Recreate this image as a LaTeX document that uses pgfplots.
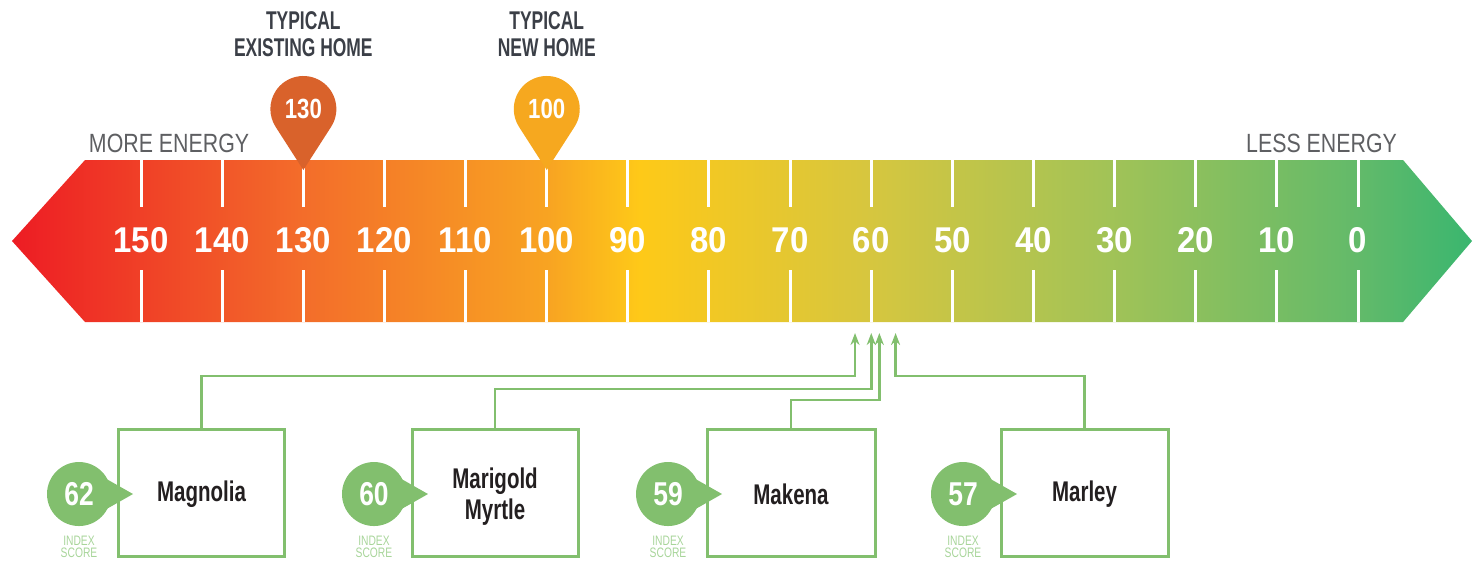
\documentclass[border=0pt]{standalone}
\usepackage{pgfplots}
\pgfplotsset{compat=1.18}
\usetikzlibrary{arrows.meta}
\usepackage{fontspec}
\setmainfont{Liberation Sans}
\newfontfamily\numf[FakeStretch=0.92]{Liberation Sans Bold}
\newfontfamily\condB[FakeStretch=0.72]{Liberation Sans Bold}
\newfontfamily\condT[FakeStretch=0.68]{Liberation Sans Bold}
\newfontfamily\condBB[FakeStretch=0.80]{Liberation Sans Bold}
\newfontfamily\condL[FakeStretch=0.81]{Liberation Sans}
\newfontfamily\condLL[FakeStretch=0.75]{Liberation Sans}

\definecolor{c0}{HTML}{ED1C24}
\definecolor{c1}{HTML}{F36C2A}
\definecolor{c2}{HTML}{F8A422}
\definecolor{c3}{HTML}{FEC918}
\definecolor{c4}{HTML}{D6C63F}
\definecolor{c5}{HTML}{A4C356}
\definecolor{c6}{HTML}{62BA6A}
\definecolor{c7}{HTML}{3AB66F}
\definecolor{pinA}{HTML}{D9622B}
\definecolor{pinB}{HTML}{F6A81F}
\definecolor{darktxt}{HTML}{3B3F47}
\definecolor{graytxt}{HTML}{5E5F62}
\definecolor{gr}{HTML}{82BF6E}
\definecolor{lgr}{HTML}{A8D59A}
\definecolor{boxtxt}{HTML}{231F20}

\pgfdeclarehorizontalshading{hers}{100bp}{%
color(0bp)=(c0); color(25bp)=(c0); color(34.85bp)=(c1); color(43.4bp)=(c2);
color(46.5bp)=(c3); color(54.4bp)=(c4); color(62.25bp)=(c5); color(71.15bp)=(c6);
color(75bp)=(c7); color(100bp)=(c7)}

\begin{document}
\begin{tikzpicture}
\begin{axis}[
  width=14.79cm, height=5.59cm, scale only axis,
  xmin=-14.91, xmax=167.39, x dir=reverse,
  ymin=0, ymax=559, y dir=reverse,
  hide axis, clip=false]
% frame for bounding box
\path (rel axis cs:0,0) rectangle (rel axis cs:1,1);
% the scale bar
\shade[shading=hers] (axis cs:165.91,241) -- (axis cs:156.91,160) -- (axis cs:-5.55,160)
  -- (axis cs:-14.05,241) -- (axis cs:-5.55,322) -- (axis cs:156.91,322) -- cycle;
% ticks and numbers
\pgfplotsinvokeforeach{150,140,130,120,110,100,90,80,70,60,50,40,30,20,10,0}{
  \draw[white, line width=0.3mm] (axis cs:#1,160) -- (axis cs:#1,207);
  \draw[white, line width=0.3mm] (axis cs:#1,270) -- (axis cs:#1,322);
  \node[white, font=\numf\fontsize{10.2}{10}\selectfont] at (axis cs:#1,240) {#1};
}
% end labels
\node[graytxt, font=\condL\fontsize{7.5}{8}\selectfont] at (axis cs:146.55,143) {MORE ENERGY};
\node[graytxt, font=\condL\fontsize{7.5}{8}\selectfont] at (axis cs:4.50,143) {LESS ENERGY};
% pins
\fill[pinA] (axis cs:130,170) -- ++(2.78mm,4.32mm) arc[start angle=-32.7, end angle=212.7, radius=3.3mm] -- cycle;
\node[white, font=\condBB\fontsize{7.9}{8}\selectfont] at (axis cs:130,109) {130};
\node[darktxt, font=\condT\fontsize{7.3}{7.7}\selectfont, align=center] at (axis cs:130,34.5) {TYPICAL\\EXISTING HOME};
\fill[pinB] (axis cs:100,170) -- ++(2.78mm,4.32mm) arc[start angle=-32.7, end angle=212.7, radius=3.3mm] -- cycle;
\node[white, font=\condBB\fontsize{7.9}{8}\selectfont] at (axis cs:100,109) {100};
\node[darktxt, font=\condT\fontsize{7.3}{7.7}\selectfont, align=center] at (axis cs:100,34.5) {TYPICAL\\NEW HOME};
% connectors
\draw[gr, line width=0.25mm, -{Stealth[length=1.2mm,width=0.9mm]}] (axis cs:142.55,429) |- (axis cs:62,376) -- (axis cs:62,333);
\draw[gr, line width=0.25mm, -{Stealth[length=1.2mm,width=0.9mm]}] (axis cs:106.37,429) |- (axis cs:60,389) -- (axis cs:60,333);
\draw[gr, line width=0.25mm, -{Stealth[length=1.2mm,width=0.9mm]}] (axis cs:69.89,429) |- (axis cs:59,400) -- (axis cs:59,333);
\draw[gr, line width=0.25mm, -{Stealth[length=1.2mm,width=0.9mm]}] (axis cs:33.71,429) |- (axis cs:57,376) -- (axis cs:57,333);
% boxes
\draw[gr, line width=0.3mm, fill=white] (axis cs:152.84,429) rectangle (axis cs:132.26,556);
\draw[gr, line width=0.3mm, fill=white] (axis cs:116.60,429) rectangle (axis cs:96.14,556);
\draw[gr, line width=0.3mm, fill=white] (axis cs:80.24,429) rectangle (axis cs:59.53,556);
\draw[gr, line width=0.3mm, fill=white] (axis cs:44.00,429) rectangle (axis cs:23.42,556);
\node[boxtxt, font=\condB\fontsize{8.1}{8.8}\selectfont] at (axis cs:142.55,494) {Magnolia};
\node[boxtxt, font=\condB\fontsize{8.1}{8.8}\selectfont, align=center] at (axis cs:106.37,497) {Marigold\\Myrtle};
\node[boxtxt, font=\condB\fontsize{8.1}{8.8}\selectfont] at (axis cs:69.89,494) {Makena};
\node[boxtxt, font=\condB\fontsize{8.1}{8.8}\selectfont] at (axis cs:33.71,494) {Marley};
% bubbles (home index scores)
\fill[gr] (axis cs:157.65,494) circle[radius=3.2mm];
\fill[gr] (axis cs:157.65,494) ++(2.4mm,1.7mm) -- ++(3mm,-1.7mm) -- ++(-3mm,-1.7mm) -- cycle;
\node[white, font=\condBB\fontsize{9.4}{9}\selectfont] at (axis cs:157.65,494) {62};
\node[lgr, font=\condLL\fontsize{3.9}{3.3}\selectfont, align=center] at (axis cs:157.65,547) {INDEX\\SCORE};
\fill[gr] (axis cs:121.29,494) circle[radius=3.2mm];
\fill[gr] (axis cs:121.29,494) ++(2.4mm,1.7mm) -- ++(3mm,-1.7mm) -- ++(-3mm,-1.7mm) -- cycle;
\node[white, font=\condBB\fontsize{9.4}{9}\selectfont] at (axis cs:121.29,494) {60};
\node[lgr, font=\condLL\fontsize{3.9}{3.3}\selectfont, align=center] at (axis cs:121.29,547) {INDEX\\SCORE};
\fill[gr] (axis cs:85.05,494) circle[radius=3.2mm];
\fill[gr] (axis cs:85.05,494) ++(2.4mm,1.7mm) -- ++(3mm,-1.7mm) -- ++(-3mm,-1.7mm) -- cycle;
\node[white, font=\condBB\fontsize{9.4}{9}\selectfont] at (axis cs:85.05,494) {59};
\node[lgr, font=\condLL\fontsize{3.9}{3.3}\selectfont, align=center] at (axis cs:85.05,547) {INDEX\\SCORE};
\fill[gr] (axis cs:48.69,494) circle[radius=3.2mm];
\fill[gr] (axis cs:48.69,494) ++(2.4mm,1.7mm) -- ++(3mm,-1.7mm) -- ++(-3mm,-1.7mm) -- cycle;
\node[white, font=\condBB\fontsize{9.4}{9}\selectfont] at (axis cs:48.69,494) {57};
\node[lgr, font=\condLL\fontsize{3.9}{3.3}\selectfont, align=center] at (axis cs:48.69,547) {INDEX\\SCORE};
\end{axis}
\end{tikzpicture}
\end{document}
